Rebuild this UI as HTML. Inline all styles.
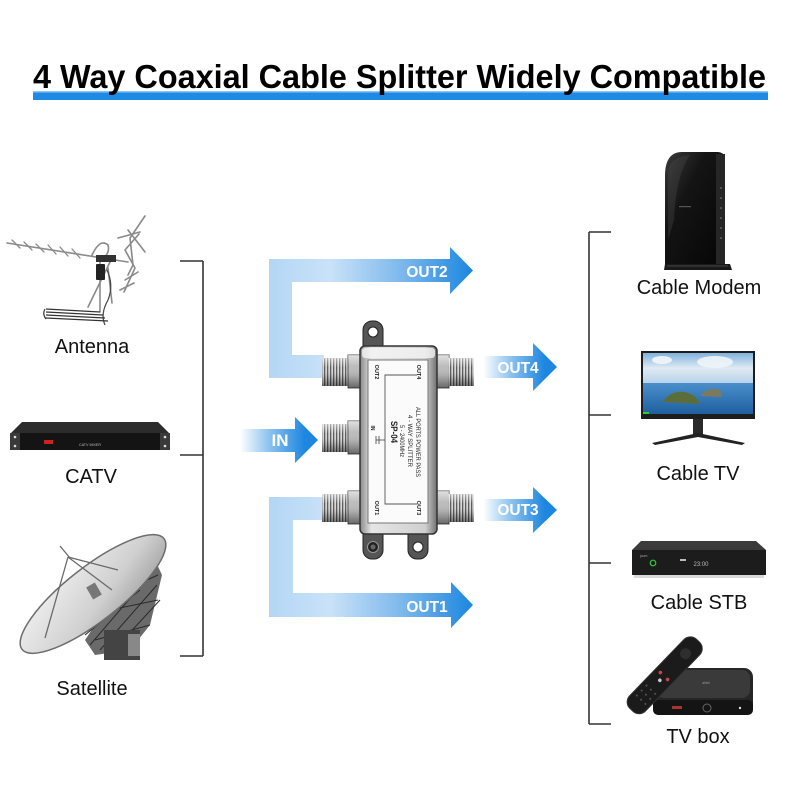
<!DOCTYPE html>
<html>
<head>
<meta charset="utf-8">
<style>
  html,body{margin:0;padding:0;background:#fff;}
  svg{display:block;}
  .lbl{font-family:"Liberation Sans",Arial,sans-serif;font-size:20px;fill:#111;text-anchor:middle;}
  .arr{font-family:"Liberation Sans",Arial,sans-serif;font-weight:bold;font-size:15.5px;fill:#fff;text-anchor:middle;}
  .sm{font-family:"Liberation Sans",Arial,sans-serif;fill:#222;text-anchor:middle;}
</style>
</head>
<body>
<svg width="800" height="800" viewBox="0 0 800 800" xmlns="http://www.w3.org/2000/svg">
  <defs>
    <linearGradient id="gBig" gradientUnits="userSpaceOnUse" x1="269" y1="0" x2="473" y2="0">
      <stop offset="0" stop-color="#b4d6f4"/>
      <stop offset="0.3" stop-color="#c9e2f8"/>
      <stop offset="0.65" stop-color="#7db8ec"/>
      <stop offset="1" stop-color="#1c86e0"/>
    </linearGradient>
    <linearGradient id="g4" gradientUnits="userSpaceOnUse" x1="483" y1="0" x2="545" y2="0">
      <stop offset="0" stop-color="#ffffff"/>
      <stop offset="0.45" stop-color="#8cc2ee"/>
      <stop offset="1" stop-color="#1c86e0"/>
    </linearGradient>
    <linearGradient id="gIn" gradientUnits="userSpaceOnUse" x1="240" y1="0" x2="305" y2="0">
      <stop offset="0" stop-color="#ffffff"/>
      <stop offset="0.45" stop-color="#8cc2ee"/>
      <stop offset="1" stop-color="#1c86e0"/>
    </linearGradient>
    <pattern id="thread" width="3" height="10" patternUnits="userSpaceOnUse">
      <rect width="3" height="10" fill="#d8d8d8"/>
      <rect width="1.3" height="10" fill="#5a5a5a"/>
    </pattern>
    <linearGradient id="cyl" x1="0" y1="0" x2="0" y2="1">
      <stop offset="0" stop-color="#fff" stop-opacity="0.55"/>
      <stop offset="0.35" stop-color="#fff" stop-opacity="0"/>
      <stop offset="0.7" stop-color="#000" stop-opacity="0.15"/>
      <stop offset="1" stop-color="#000" stop-opacity="0.45"/>
    </linearGradient>
    <linearGradient id="body" x1="0" y1="0" x2="1" y2="0">
      <stop offset="0" stop-color="#8a8a8a"/>
      <stop offset="0.15" stop-color="#e6e6e6"/>
      <stop offset="0.85" stop-color="#cfcfcf"/>
      <stop offset="1" stop-color="#707070"/>
    </linearGradient>
    <linearGradient id="modem" x1="0" y1="0" x2="1" y2="1">
      <stop offset="0" stop-color="#3a3a3a"/>
      <stop offset="0.35" stop-color="#141414"/>
      <stop offset="1" stop-color="#050505"/>
    </linearGradient>
    <linearGradient id="sky" x1="0" y1="0" x2="0" y2="1">
      <stop offset="0" stop-color="#7fb2dd"/>
      <stop offset="0.5" stop-color="#dfeaf3"/>
      <stop offset="1" stop-color="#b8d3ea"/>
    </linearGradient>
    <linearGradient id="sea" x1="0" y1="0" x2="0" y2="1">
      <stop offset="0" stop-color="#4a8fcc"/>
      <stop offset="1" stop-color="#1f5f9f"/>
    </linearGradient>
    <linearGradient id="dish" x1="0" y1="0" x2="1" y2="1">
      <stop offset="0" stop-color="#f2f2f2"/>
      <stop offset="0.6" stop-color="#d0d0d0"/>
      <stop offset="1" stop-color="#9a9a9a"/>
    </linearGradient>
  </defs>

  <!-- Title -->
  <rect x="33" y="91" width="735" height="9" fill="#1e8ae6"/>
  <rect x="33" y="91" width="735" height="1.5" fill="#8ec6f3"/>
  <text x="33" y="88" textLength="733" lengthAdjust="spacingAndGlyphs"
        style="font-family:'Liberation Sans',Arial,sans-serif;font-weight:bold;font-size:33px;fill:#000;">4 Way Coaxial Cable Splitter Widely Compatible</text>

  <!-- Left bracket -->
  <g stroke="#333" stroke-width="1.6" fill="none">
    <line x1="203" y1="261" x2="203" y2="656"/>
    <line x1="180" y1="261" x2="203" y2="261"/>
    <line x1="180" y1="455" x2="203" y2="455"/>
    <line x1="180" y1="656" x2="203" y2="656"/>
  </g>
  <!-- Right bracket -->
  <g stroke="#333" stroke-width="1.6" fill="none">
    <line x1="589" y1="232" x2="589" y2="724"/>
    <line x1="589" y1="232" x2="611" y2="232"/>
    <line x1="589" y1="415" x2="611" y2="415"/>
    <line x1="589" y1="563" x2="611" y2="563"/>
    <line x1="589" y1="724" x2="611" y2="724"/>
  </g>

  <!-- Arrows -->
  <polygon fill="url(#gBig)" points="269,259 450,259 450,247 473,270.5 450,294 450,282 292,282 292,355 324,355 324,378 269,378"/>
  <polygon fill="url(#gBig)" points="269,497 324,497 324,520 293,520 293,593 451,593 451,582 473,605 451,628 451,617 269,617"/>
  <polygon fill="url(#g4)" points="484,356 533,356 533,343 557,367 533,391 533,378 484,378"/>
  <polygon fill="url(#g4)" points="484,499 533,499 533,487 557,510 533,533 533,521 484,521"/>
  <polygon fill="url(#gIn)" points="240,429 295,429 295,417 318,440 295,463 295,452 240,452"/>
  <text class="arr" x="427" y="277">OUT2</text>
  <text class="arr" x="518" y="373">OUT4</text>
  <text class="arr" x="518" y="515">OUT3</text>
  <text class="arr" x="427" y="612">OUT1</text>
  <text class="arr" x="280" y="446" style="font-size:17px">IN</text>

  <!-- Splitter -->
  <g>
    <rect x="363" y="321" width="20" height="34" rx="9" fill="#555" stroke="#222"/>
    <circle cx="373" cy="332" r="5" fill="#fff" stroke="#222"/>
    <rect x="363" y="525" width="20" height="34" rx="9" fill="#555" stroke="#222"/>
    <circle cx="373" cy="547" r="5.5" fill="#222" stroke="#999"/>
    <circle cx="373" cy="547" r="2.5" fill="#666"/>
    <rect x="408" y="525" width="20" height="34" rx="9" fill="#555" stroke="#222"/>
    <circle cx="418" cy="547" r="5" fill="#fff" stroke="#222"/>

    <g>
      <rect x="322" y="358" width="28" height="28" fill="url(#thread)"/>
      <rect x="322" y="358" width="28" height="28" fill="url(#cyl)"/>
      <rect x="348" y="355" width="13" height="33" fill="#bbb" stroke="#555"/>
      <rect x="348" y="355" width="13" height="33" fill="url(#cyl)"/>

      <rect x="322" y="424" width="28" height="28" fill="url(#thread)"/>
      <rect x="322" y="424" width="28" height="28" fill="url(#cyl)"/>
      <rect x="348" y="421" width="13" height="33" fill="#bbb" stroke="#555"/>
      <rect x="348" y="421" width="13" height="33" fill="url(#cyl)"/>

      <rect x="322" y="494" width="28" height="28" fill="url(#thread)"/>
      <rect x="322" y="494" width="28" height="28" fill="url(#cyl)"/>
      <rect x="348" y="491" width="13" height="33" fill="#bbb" stroke="#555"/>
      <rect x="348" y="491" width="13" height="33" fill="url(#cyl)"/>
    </g>
    <g>
      <rect x="436" y="355" width="13" height="33" fill="#bbb" stroke="#555"/>
      <rect x="436" y="355" width="13" height="33" fill="url(#cyl)"/>
      <rect x="448" y="358" width="26" height="28" fill="url(#thread)"/>
      <rect x="448" y="358" width="26" height="28" fill="url(#cyl)"/>

      <rect x="436" y="491" width="13" height="33" fill="#bbb" stroke="#555"/>
      <rect x="436" y="491" width="13" height="33" fill="url(#cyl)"/>
      <rect x="448" y="494" width="26" height="28" fill="url(#thread)"/>
      <rect x="448" y="494" width="26" height="28" fill="url(#cyl)"/>
    </g>

    <rect x="360" y="346" width="77" height="188" rx="5" fill="url(#body)" stroke="#333" stroke-width="1.5"/>
    <rect x="362" y="348" width="73" height="10" rx="3" fill="#f4f4f4" opacity="0.8"/>
    <rect x="368" y="360" width="60" height="163" fill="#fbfbfb" stroke="#777" stroke-width="1"/>
    <g stroke="#555" stroke-width="0.9" fill="none">
      <polyline points="417,375 385,375 385,504 417,504"/>
      <line x1="376" y1="440" x2="385" y2="440"/>
      <line x1="376" y1="436" x2="376" y2="444"/>
      <line x1="379" y1="436" x2="379" y2="444"/>
    </g>
    <g class="sm">
      <text transform="translate(394,432) rotate(90)" dy="3" style="font-size:9px;font-weight:bold" textLength="22" lengthAdjust="spacingAndGlyphs">SP-04</text>
      <text transform="translate(402,441) rotate(90)" dy="2" style="font-size:6px" textLength="32" lengthAdjust="spacingAndGlyphs">5 - 2400MHz</text>
      <text transform="translate(410,441) rotate(90)" dy="2" style="font-size:6px" textLength="52" lengthAdjust="spacingAndGlyphs">4 - WAY SPLITTER</text>
      <text transform="translate(418,442) rotate(90)" dy="2" style="font-size:6px" textLength="70" lengthAdjust="spacingAndGlyphs">ALL PORTS POWER PASS</text>
      <text transform="translate(377,372) rotate(90)" dy="2" style="font-size:5.5px;font-weight:bold">OUT2</text>
      <text transform="translate(419,372) rotate(90)" dy="2" style="font-size:5.5px;font-weight:bold">OUT4</text>
      <text transform="translate(377,508) rotate(90)" dy="2" style="font-size:5.5px;font-weight:bold">OUT1</text>
      <text transform="translate(419,508) rotate(90)" dy="2" style="font-size:5.5px;font-weight:bold">OUT3</text>
      <text transform="translate(373,428) rotate(90)" dy="2" style="font-size:5px;font-weight:bold">IN</text>
    </g>
  </g>

  <!-- Antenna -->
  <g stroke="#8a8a8a" stroke-width="1.6" fill="none" stroke-linecap="round">
    <line x1="7" y1="243" x2="128" y2="262"/>
    <g stroke-width="1.3">
      <line x1="12" y1="240" x2="20" y2="248"/>
      <line x1="24" y1="242" x2="32" y2="250"/>
      <line x1="36" y1="244" x2="44" y2="252"/>
      <line x1="48" y1="245" x2="56" y2="254"/>
      <line x1="60" y1="247" x2="68" y2="256"/>
      <line x1="72" y1="249" x2="80" y2="258"/>
    </g>
    <path d="M92,255 Q100,238 108,245 Q110,252 104,258"/>
    <path d="M145,216 L130,238 L133,265 L128,275"/>
    <path d="M139,234 L125,250 L135,268 L124,292"/>
    <line x1="118" y1="238" x2="140" y2="232"/>
    <line x1="128" y1="230" x2="145" y2="252"/>
    <line x1="125" y1="280" x2="138" y2="272"/>
    <line x1="120" y1="290" x2="134" y2="283"/>
    <line x1="100" y1="262" x2="100" y2="312"/>
    <line x1="88" y1="307" x2="110" y2="262"/>
    <line x1="112" y1="303" x2="108" y2="268"/>
  </g>
  <rect x="96" y="264" width="9" height="16" rx="1" fill="#222"/>
  <rect x="96" y="255" width="20" height="7" fill="#333"/>
  <path d="M107,270 Q114,285 108,300 Q100,314 105,325" stroke="#444" stroke-width="1.2" fill="none"/>
  <g stroke="#333" stroke-width="1.2" fill="none">
    <path d="M46,309 L100,312"/>
    <path d="M46,312 L103,315"/>
    <path d="M46,315 L105,318"/>
    <path d="M46,318 L108,321"/>
    <path d="M45,309 Q42,314 46,319"/>
  </g>
  <text class="lbl" x="92" y="353">Antenna</text>

  <!-- CATV -->
  <polygon points="22,422 158,422 169,433 11,433" fill="#2c2c2c"/>
  <rect x="10" y="433" width="160" height="17" fill="#141414"/>
  <rect x="10" y="433" width="10" height="17" fill="#3a3a3a"/>
  <rect x="160" y="433" width="10" height="17" fill="#3a3a3a"/>
  <circle cx="15" cy="437" r="1.3" fill="#ddd"/><circle cx="15" cy="446" r="1.3" fill="#ddd"/>
  <circle cx="165" cy="437" r="1.3" fill="#ddd"/><circle cx="165" cy="446" r="1.3" fill="#ddd"/>
  <rect x="44" y="440" width="9" height="4" fill="#c22"/>
  <text x="90" y="446" class="sm" style="font-size:4px;fill:#bbb" textLength="22" lengthAdjust="spacingAndGlyphs">CATV MIXER</text>
  <text class="lbl" x="91" y="483">CATV</text>

  <!-- Satellite dish -->
  <g>
    <polygon points="85,640 120,588 155,560 162,575 150,625 130,650 95,655" fill="#6a6a6a"/>
    <g stroke="#2a2a2a" stroke-width="1" fill="none">
      <path d="M90,645 L150,575 M100,650 L157,585 M112,652 L160,600 M85,635 L140,590"/>
      <path d="M95,640 L150,625 M110,610 L158,600 M125,590 L158,575"/>
    </g>
    <rect x="104" y="630" width="36" height="30" fill="#444"/>
    <rect x="128" y="634" width="12" height="22" fill="#888"/>
    <ellipse cx="93" cy="594" rx="90" ry="27" transform="rotate(-38 93 594)" fill="url(#dish)" stroke="#6d6d6d" stroke-width="1.5"/>
    <rect x="89" y="584" width="10" height="14" fill="#777" transform="rotate(-30 94 591)"/>
    <g stroke="#6a6a6a" stroke-width="1.3">
      <line x1="45" y1="638" x2="68" y2="557"/>
      <line x1="68" y1="557" x2="118" y2="570"/>
      <line x1="68" y1="557" x2="112" y2="590"/>
      <line x1="60" y1="546" x2="70" y2="558"/>
    </g>
  </g>
  <text class="lbl" x="92" y="695">Satellite</text>

  <!-- Modem -->
  <path d="M682,152 L717,152 Q725,152 725,160 L725,266 L665,266 L665,176 Q665,152 682,152 Z" fill="url(#modem)"/>
  <path d="M668,170 Q672,156 690,155 Q676,175 674,220 L668,240 Z" fill="#4a4a4a" opacity="0.35"/>
  <rect x="716" y="154" width="9" height="112" fill="#262626"/>
  <g fill="#888">
    <circle cx="721" cy="188" r="0.8"/><circle cx="721" cy="198" r="0.8"/><circle cx="721" cy="208" r="0.8"/>
    <circle cx="721" cy="218" r="0.8"/><circle cx="721" cy="228" r="0.8"/><circle cx="721" cy="238" r="0.8"/>
  </g>
  <rect x="679" y="206" width="12" height="1.2" fill="#555"/>
  <path d="M665,264 L730,264 L732,270 L664,270 Z" fill="#1a1a1a"/>
  <line x1="667" y1="266" x2="728" y2="266" stroke="#555" stroke-width="0.8"/>
  <text class="lbl" x="699" y="294">Cable Modem</text>

  <!-- Monitor / TV -->
  <rect x="641" y="351" width="114" height="68" fill="#1d1d1d"/>
  <rect x="643" y="353" width="110" height="30" fill="url(#sky)"/>
  <rect x="643" y="383" width="110" height="31" fill="url(#sea)"/>
  <ellipse cx="662" cy="360" rx="10" ry="4" fill="#f3f6f9" opacity="0.9"/>
  <ellipse cx="715" cy="362" rx="18" ry="6" fill="#f0f4f8" opacity="0.9"/>
  <path d="M662,402 Q672,390 684,392 Q696,394 700,404 Z" fill="#5b6e3a"/>
  <path d="M700,396 Q708,386 720,390 L722,397 Z" fill="#7a7b5c"/>
  <rect x="643" y="412" width="6" height="2" fill="#3c3"/>
  <rect x="693" y="419" width="10" height="16" fill="#2a2a2a"/>
  <path d="M652,443 L698,433 L745,443 L742,445 L698,437 L655,445 Z" fill="#222"/>
  <text class="lbl" x="698" y="480">Cable TV</text>

  <!-- STB -->
  <polygon points="641,541 756,541 766,550 632,550" fill="#3b3b3b"/>
  <rect x="632" y="550" width="134" height="25" fill="#1c1c1c"/>
  <rect x="634" y="575" width="130" height="3" fill="#bfbfbf" opacity="0.6"/>
  <circle cx="653" cy="563" r="2.8" fill="none" stroke="#3c3" stroke-width="1.2"/>
  <text x="640" y="557" class="sm" style="font-size:3.5px;fill:#aaa;text-anchor:start">jcom</text>
  <rect x="680" y="559" width="6" height="2" fill="#bbb"/>
  <text x="701" y="566" class="sm" style="font-size:6px;fill:#bbb">23:00</text>
  <text class="lbl" x="699" y="609">Cable STB</text>

  <!-- TV box -->
  <rect x="653" y="668" width="100" height="47" rx="9" fill="#262626"/>
  <rect x="656" y="670" width="94" height="28" rx="8" fill="#3a3a3a"/>
  <rect x="653" y="700" width="100" height="15" rx="5" fill="#141414"/>
  <circle cx="707" cy="708" r="4" fill="none" stroke="#666" stroke-width="1"/>
  <rect x="672" y="706" width="10" height="3" fill="#a33"/>
  <circle cx="740" cy="708" r="1.2" fill="#ddd"/>
  <text x="706" y="684" class="sm" style="font-size:3.5px;fill:#999">airtel</text>
  <g transform="rotate(-46 664 676)">
    <rect x="617" y="665" width="96" height="22" rx="9" fill="#1b1b1b" stroke="#333"/>
    <circle cx="695" cy="676" r="5.5" fill="#2e2e2e"/>
    <circle cx="664" cy="671" r="1.8" fill="#c44"/>
    <circle cx="664" cy="681" r="1.8" fill="#c44"/>
    <circle cx="658" cy="676" r="1.8" fill="#ccc"/>
    <g fill="#555">
      <circle cx="645" cy="670" r="1"/><circle cx="645" cy="676" r="1"/><circle cx="645" cy="682" r="1"/>
      <circle cx="638" cy="670" r="1"/><circle cx="638" cy="676" r="1"/><circle cx="638" cy="682" r="1"/>
      <circle cx="631" cy="670" r="1"/><circle cx="631" cy="676" r="1"/><circle cx="631" cy="682" r="1"/>
    </g>
  </g>
  <text class="lbl" x="698" y="743">TV box</text>
</svg>
</body>
</html>
